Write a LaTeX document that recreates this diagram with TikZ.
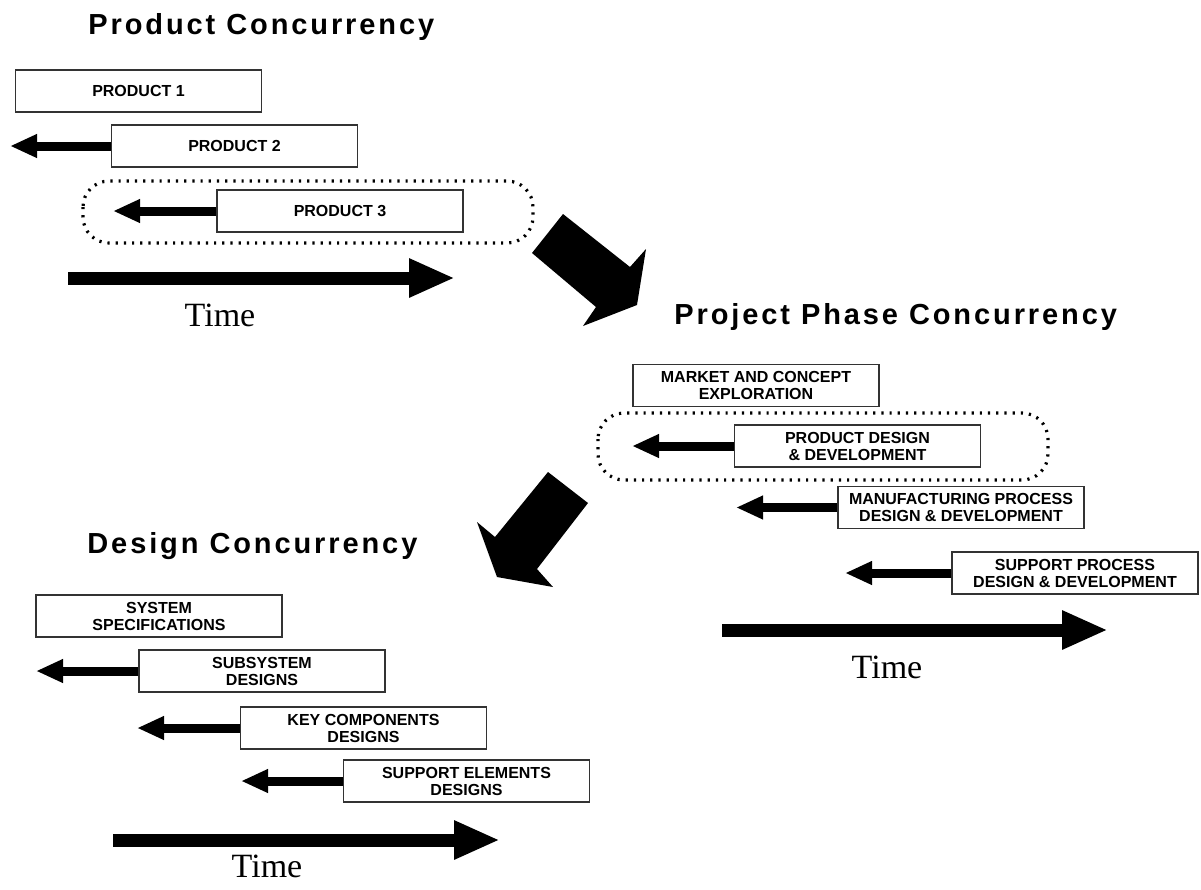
\documentclass[tikz,border=0pt]{standalone}
\usepackage{fontspec}
\setmainfont{Liberation Serif}
\newfontfamily\headfont[LetterSpace=10]{Liberation Sans}
\newfontfamily\boxfont{Liberation Sans}
\usetikzlibrary{arrows.meta}

\begin{document}
\begin{tikzpicture}[x=0.5pt,y=-0.5pt,
  heading/.style={anchor=base west,inner sep=0pt,font=\headfont\bfseries\fontsize{14.5}{16}\selectfont},
  phase/.style={draw=black!80,line width=0.6pt,minimum width=123pt,minimum height=21pt,
    inner sep=0pt,align=center,font=\boxfont\bfseries\fontsize{8}{8.5}\selectfont},
  back/.style={line width=4.5pt,-{Triangle[length=13.5pt,width=11pt]}},
  timeline/.style={line width=6.5pt,-{Triangle[length=23pt,width=18pt]}},
  timelabel/.style={font=\fontsize{17}{19}\selectfont},
  group/.style={line width=1.6pt,dash pattern=on 1.1pt off 3pt,rounded corners=13pt},
]
\useasboundingbox (0,0) rectangle (1201,890);

% product concurrency
\node[heading] (hprod) at (88,34) {Product Concurrency};
\node[phase] (p1) at (138.5,91) {PRODUCT 1};
\node[phase] (p2) at (234.5,146) {PRODUCT 2};
\node[phase] (p3) at (340,211) {PRODUCT 3};
\coordinate (p2end) at (10,146);
\coordinate (p3end) at (113,211);
\draw[back] (p2.west) -- (p2end);
\draw[back] (p3.west) -- (p3end);
\draw[group] (83,181) rectangle (533,243);
\coordinate (t1a) at (68,278); \coordinate (t1b) at (455,278);
\draw[timeline] (t1a) -- (t1b);
\node[timelabel] (time1) at (220,315) {Time};

% product -> project phase
\fill (563,214) -- (630,267) -- (646,249) -- (637,305) -- (583,326)
  -- (596,307) -- (532,253) -- cycle;

% project phase concurrency
\node[heading] (hphase) at (674,324) {Project Phase Concurrency};
\node[phase] (ph1) at (756,385.5) {MARKET AND CONCEPT\\EXPLORATION};
\node[phase] (ph2) at (857.5,446) {PRODUCT DESIGN\\\& DEVELOPMENT};
\node[phase] (ph3) at (961,507.5) {MANUFACTURING PROCESS\\DESIGN \& DEVELOPMENT};
\node[phase] (ph4) at (1075,573) {SUPPORT PROCESS\\DESIGN \& DEVELOPMENT};
\coordinate (ph2end) at (632,446);
\coordinate (ph3end) at (736,507.5);
\coordinate (ph4end) at (845,573);
\draw[back] (ph2.west) -- (ph2end);
\draw[back] (ph3.west) -- (ph3end);
\draw[back] (ph4.west) -- (ph4end);
\draw[group] (598,413) rectangle (1048,480);
\coordinate (t2a) at (722,630); \coordinate (t2b) at (1108,630);
\draw[timeline] (t2a) -- (t2b);
\node[timelabel] (time2) at (887,667) {Time};

% project phase -> design
\fill (548,472) -- (588,503) -- (537,569) -- (553,587) -- (497,577)
  -- (477,522) -- (495,537) -- cycle;

% design concurrency
\node[heading] (hdes) at (87,553) {Design Concurrency};
\node[phase] (d1) at (159,616) {SYSTEM\\SPECIFICATIONS};
\node[phase] (d2) at (262,671) {SUBSYSTEM\\DESIGNS};
\node[phase] (d3) at (363.5,728) {KEY COMPONENTS\\DESIGNS};
\node[phase] (d4) at (466.5,781) {SUPPORT ELEMENTS\\DESIGNS};
\coordinate (d2end) at (36,671);
\coordinate (d3end) at (137,728);
\coordinate (d4end) at (241,781);
\draw[back] (d2.west) -- (d2end);
\draw[back] (d3.west) -- (d3end);
\draw[back] (d4.west) -- (d4end);
\coordinate (t3a) at (113,840); \coordinate (t3b) at (500,840);
\draw[timeline] (t3a) -- (t3b);
\node[timelabel] (time3) at (267,866) {Time};
\end{tikzpicture}
\end{document}
